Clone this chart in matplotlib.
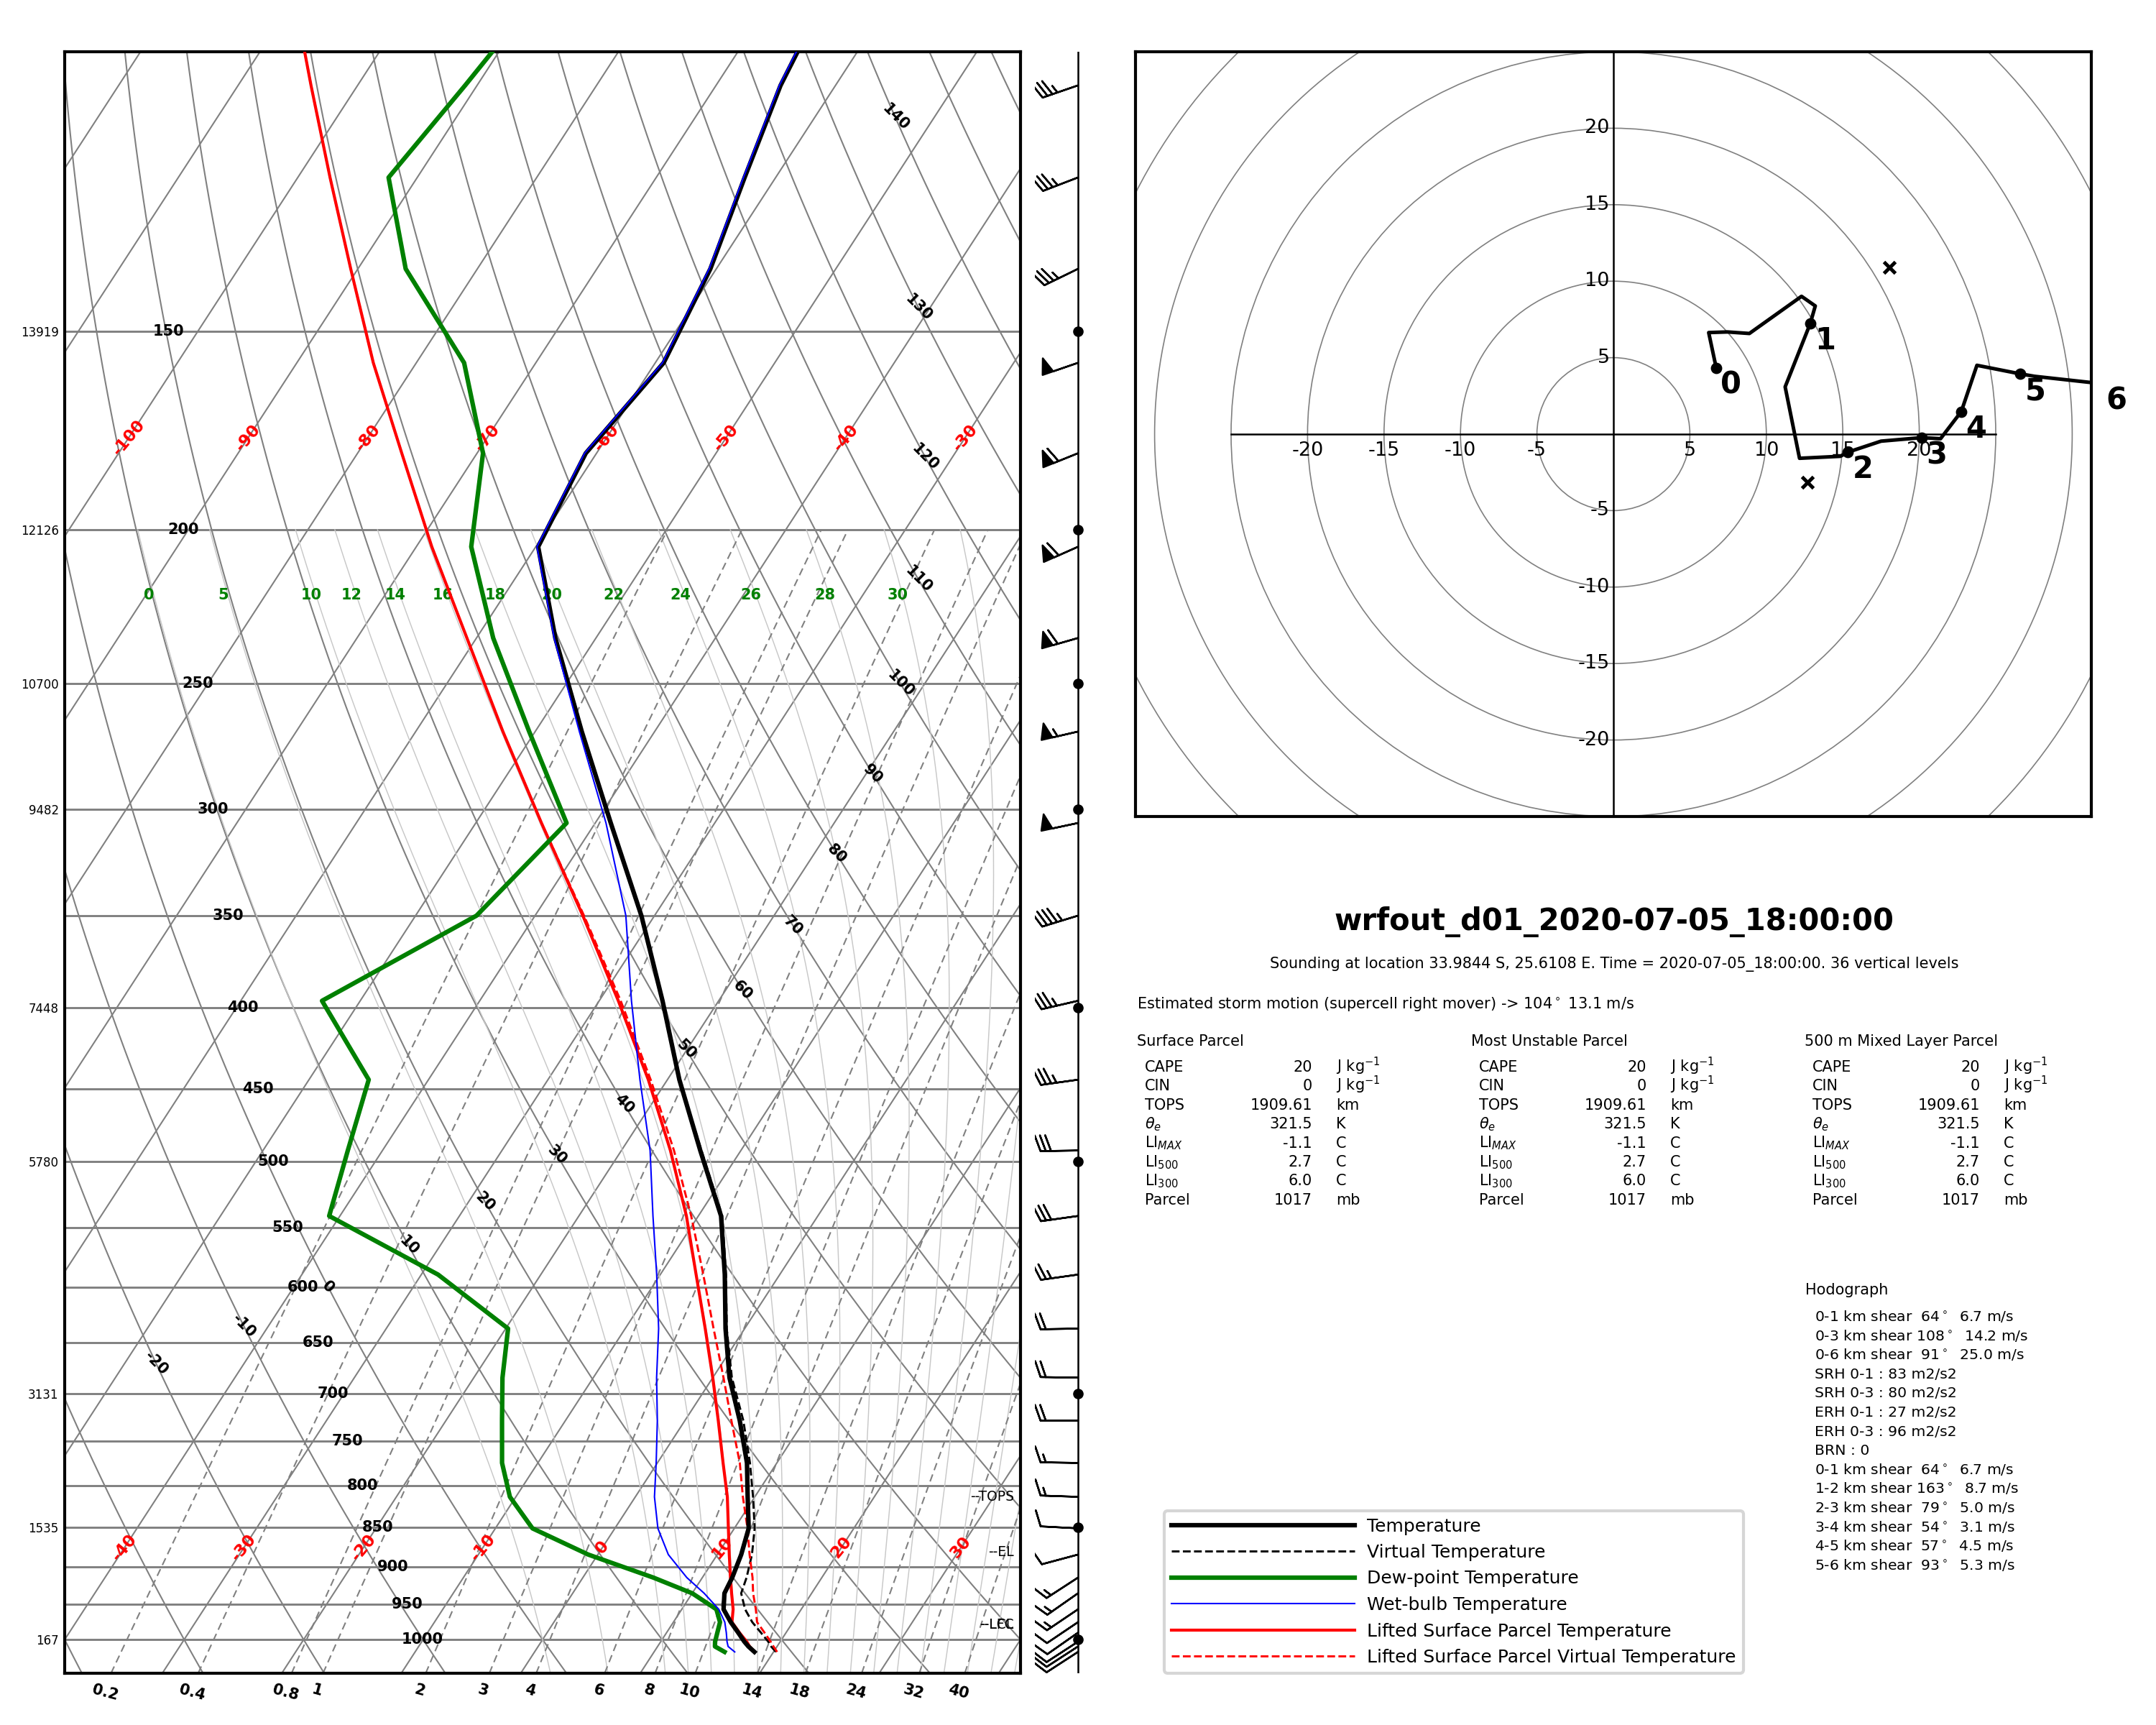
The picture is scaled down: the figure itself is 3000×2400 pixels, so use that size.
import numpy as np
import matplotlib
matplotlib.use('Agg')
import matplotlib.pyplot as plt
import matplotlib.transforms as mtransforms
from matplotlib.patches import Circle

# ---------------- sounding ----------------
pres = [1018, 1010, 1003, 990, 975, 957, 935, 914, 884, 851, 813, 774, 728, 684,
        637, 589, 541, 492, 444, 396, 350, 306, 268, 234, 205, 179, 157, 137, 120, 105, 92]
temp = [18.4, 17.6, 17.0, 16.0, 14.8, 13.5, 12.7, 12.5, 12.0, 11.2, 9.4, 7.5, 4.6, 1.4,
        -1.6, -4.6, -8.1, -13.4, -19.0, -24.7, -31.1, -38.7, -46.1, -53.4, -59.8, -60.9,
        -59.3, -60.5, -62.6, -64.6, -65.7]
tvirt = [20.2, 19.5, 19.0, 17.9, 16.6, 15.3, 14.1, 13.7, 12.9, 11.7, 9.85, 7.75, 4.9, 1.6,
         -1.5, -4.5, -8.0, -13.3, -19.0, -24.7, -31.1, -38.7, -46.1, -53.4, -59.8, -60.9,
         -59.3, -60.5, -62.6, -64.6, -65.7]
dewp = [15.9, 14.8, 14.55, 14.25, 13.9, 12.9, 10.0, 5.9, -0.8, -6.9, -10.5, -13.0, -15.3,
        -17.6, -19.8, -28.6, -40.9, -42.9, -45.0, -53.2, -44.9, -42.4, -50.5, -58.6, -65.4,
        -69.5, -76.0, -86.0, -92.4, -91.0, -89.8]
twet = [16.75, 15.9, 15.55, 15.0, 14.3, 13.1, 11.0, 8.7, 5.9, 3.6, 1.6, -0.1, -2.3, -4.7,
        -7.2, -10.3, -13.8, -17.6, -22.3, -27.3, -32.4, -39.1, -46.3, -53.5, -59.9, -61.0,
        -59.4, -60.6, -62.7, -64.7, -65.8]
tpar = [18.4, 17.7, 17.2, 16.1, 14.9, 14.3, 13.3, 12.35, 11.0, 9.5, 7.7, 5.5, 2.8, 0.0,
        -3.3, -7.0, -11.0, -15.9, -21.6, -28.4, -36.0, -44.5, -52.7, -60.8, -68.7, -76.3,
        -83.6, -90.6, -97.3, -103.9, -110.3]
tpar_v = [20.3, 19.7, 19.2, 18.2, 17.0, 16.2, 15.1, 14.2, 12.7, 11.1, 9.0, 6.9, 3.9, 0.9,
          -2.6, -6.4, -10.6, -15.6, -21.4, -28.2, -35.9, -44.5, -52.7, -60.8, -68.7, -76.3,
          -83.6, -90.6, -97.3, -103.9, -110.3]
wspd = [10, 10, 10, 10, 10, 15, 15, 15, 10, 10, 15, 15, 20, 20, 20, 25, 30, 30, 35, 35,
        45, 50, 55, 60, 60, 60, 50, 35, 35, 35, 35]
wdir = [237, 237, 237, 235, 236, 236, 235, 237, 255, 273, 272, 271, 270, 271, 269, 262,
        262, 269, 262, 257, 253, 258, 257, 254, 246, 248, 251, 244, 249, 251, 251]

hgt_p = [150, 200, 250, 300, 400, 500, 700, 850, 1000]
hgt_m = ['13919', '12126', '10700', '9482', '7448', '5780', '3131', '1535', '167']

# hodograph (m/s)
hodo_u = [6.72, 6.23, 7.46, 8.89, 12.30, 13.20, 12.87, 11.23, 12.17, 14.84, 15.33, 17.50,
          20.16, 21.39, 22.75, 23.77, 26.60, 27.54, 31.90]
hodo_v = [4.34, 6.64, 6.68, 6.58, 9.01, 8.38, 7.23, 3.09, -1.58, -1.45, -1.18, -0.46,
          -0.23, -0.30, 1.48, 4.50, 3.94, 3.78, 3.30]
km_u = [6.72, 12.87, 15.33, 20.16, 22.75, 26.60, 31.90]
km_v = [4.34, 7.23, -1.18, -0.23, 1.48, 3.94, 3.30]
storm_u = [12.71, 18.03]
storm_v = [-3.17, 10.91]

mix_vals = [0.2, 0.4, 0.8, 1, 2, 3, 4, 6, 8, 10, 14, 18, 24, 32, 40]
mix_labs = ['0.2', '0.4', '0.8', '1', '2', '3', '4', '6', '8', '10', '14', '18', '24', '32', '40']
thw_vals = [0, 5, 10, 12, 14, 16, 18, 20, 22, 24, 26, 28, 30, 32, 34, 36, 38, 40]

parcel_rows = [('CAPE', '20', r'J kg$^{-1}$'), ('CIN', '0', r'J kg$^{-1}$'),
               ('TOPS', '1909.61', 'km'), (r'$\theta_e$', '321.5', 'K'),
               (r'LI$_{MAX}$', '-1.1', 'C'), (r'LI$_{500}$', '2.7', 'C'),
               (r'LI$_{300}$', '6.0', 'C'), ('Parcel', '1017', 'mb')]
parcel_heads = ['Surface Parcel', 'Most Unstable Parcel', '500 m Mixed Layer Parcel']
hodo_lines = [r'0-1 km shear  64$^\circ$  6.7 m/s', r'0-3 km shear 108$^\circ$  14.2 m/s',
              r'0-6 km shear  91$^\circ$  25.0 m/s', 'SRH 0-1 : 83 m2/s2', 'SRH 0-3 : 80 m2/s2',
              'ERH 0-1 : 27 m2/s2', 'ERH 0-3 : 96 m2/s2', 'BRN : 0',
              r'0-1 km shear  64$^\circ$  6.7 m/s', r'1-2 km shear 163$^\circ$  8.7 m/s',
              r'2-3 km shear  79$^\circ$  5.0 m/s', r'3-4 km shear  54$^\circ$  3.1 m/s',
              r'4-5 km shear  57$^\circ$  4.5 m/s', r'5-6 km shear  93$^\circ$  5.3 m/s']

fig = plt.figure(figsize=(10, 8), dpi=300)

# ---------------- skew-T ----------------
ax = fig.add_axes([0.03, 0.03, 0.44333, 0.94])
ax.set_yscale('log')
ax.set_xlim(-40, 40)
ax.set_ylim(1050, 100)
ax.set_autoscale_on(False)
K = 37.5
l10 = np.log(10)
skew = (ax.transScale
        + mtransforms.Affine2D(np.array([[1, -K * l10, 3 * K * l10], [0, 1, 0], [0, 0, 1]]))
        + ax.transLimits + ax.transAxes)
gcol = '#808080'

for p in range(150, 1050, 50):
    ax.axhline(p, color=gcol, lw=0.7, zorder=1)

for t in range(-130, 60, 10):
    ax.plot([t, t], [1050, 100], color=gcol, lw=0.5, transform=skew, zorder=1)

p_dry = np.geomspace(1050, 100, 100)
for th in range(-40, 180, 10):
    ax.plot((th + 273.15) * (p_dry / 1000) ** 0.2857 - 273.15, p_dry, color=gcol, lw=0.5,
            transform=skew, zorder=1)


def es(tc):
    return 6.112 * np.exp(17.67 * tc / (tc + 243.5))


def dtdp(tk, p):
    e = es(tk - 273.15)
    rs = 0.622 * e / (p - e)
    return (287.04 * tk + 2.501e6 * rs) / (1005.7 + 2.501e6 ** 2 * rs * 0.622 / (287.04 * tk ** 2)) / p


def integrate(t0, pgrid):
    out = [t0]
    t = t0
    for p1, p2 in zip(pgrid[:-1], pgrid[1:]):
        h = p2 - p1
        k1 = dtdp(t, p1)
        k2 = dtdp(t + h * k1 / 2, p1 + h / 2)
        k3 = dtdp(t + h * k2 / 2, p1 + h / 2)
        k4 = dtdp(t + h * k3, p2)
        t = t + h * (k1 + 2 * k2 + 2 * k3 + k4) / 6
        out.append(t)
    return np.array(out)


thw0 = np.array(thw_vals, dtype=float) + 273.15
p_up = np.linspace(1000, 200, 161)
p_dn = np.linspace(1000, 1050, 11)
t_up = integrate(thw0, p_up)
t_dn = integrate(thw0, p_dn)
p_moist = np.concatenate([p_dn[::-1], p_up[1:]])
t_moist = np.concatenate([t_dn[::-1], t_up[1:]]) - 273.15
for i, thw in enumerate(thw_vals):
    ax.plot(t_moist[:, i], p_moist, color='#c8c8c8', lw=0.35, transform=skew, zorder=1)
    tl = np.interp(np.log(220), np.log(p_up[::-1]), t_up[::-1, i] - 273.15)
    if thw <= 30:
        ax.text(tl - 0.4, 220, str(thw), color='green', fontsize=5, fontweight='bold',
                ha='center', va='center', transform=skew, zorder=3)

p_mix = np.geomspace(1050, 200, 60)
for r, lab in zip(mix_vals, mix_labs):
    e = r / 1000 * p_mix / (0.622 + r / 1000)
    le = np.log(e / 6.112)
    tm = 243.5 * le / (17.67 - le)
    ax.plot(tm, p_mix, color=gcol, lw=0.5, ls='--', dashes=(5, 3), transform=skew, zorder=1)
    ax.annotate(lab, xy=(tm[0], 1050), xycoords=skew, xytext=(-2, -3),
                textcoords='offset points', ha='center', va='top', rotation=-15,
                fontsize=5, fontweight='bold', annotation_clip=False)

# labels: isotherms, dry adiabats, pressure
for t in range(-130, 60, 10):
    for pl in (875, 175):
        if -39 < t + K * np.log(1000 / pl) < 39:
            ax.text(t, pl, str(t), color='red', fontsize=5.5, fontweight='bold', rotation=50,
                    ha='center', va='center', transform=skew, zorder=3)
for th in range(-20, 150, 10):
    pl = 600 - 3.5 * th
    ax.text((th + 273.15) * (pl / 1000) ** 0.2857 - 273.15, pl, str(th), fontsize=5,
            fontweight='bold', rotation=-45, ha='center', va='center', transform=skew, zorder=3)
pl_tr = mtransforms.blended_transform_factory(ax.transAxes, ax.transData)
for p in range(150, 1050, 50):
    ax.text(0.1083 + (p - 150) * 0.000313, p, str(p), fontsize=5, fontweight='bold',
            ha='center', va='center', transform=pl_tr, zorder=3)

# profiles
ax.plot(temp, pres, color='k', lw=1.5, transform=skew, zorder=6, label='Temperature')
ax.plot(tvirt, pres, color='k', lw=0.7, ls='--', transform=skew, zorder=5,
        label='Virtual Temperature')
ax.plot(dewp, pres, color='green', lw=1.5, transform=skew, zorder=6,
        label='Dew-point Temperature')
ax.plot(twet, pres, color='blue', lw=0.5, transform=skew, zorder=7, label='Wet-bulb Temperature')
ax.plot(tpar, pres, color='red', lw=1.0, transform=skew, zorder=5,
        label='Lifted Surface Parcel Temperature')
ax.plot(tpar_v, pres, color='red', lw=0.7, ls='--', transform=skew, zorder=5,
        label='Lifted Surface Parcel Virtual Temperature')

for lab, pl in (('--TOPS', 813), ('--EL', 881), ('--LCL', 979), ('--LFC', 979)):
    ax.text(0.993, pl, lab, fontsize=4.5, ha='right', va='center', transform=pl_tr, zorder=4)

ax.set_xticks([])
ax.set_yticks(hgt_p)
ax.set_yticklabels(hgt_m, fontsize=4)
ax.yaxis.set_minor_locator(matplotlib.ticker.NullLocator())
ax.tick_params(axis='y', length=0, pad=2)
for s in ax.spines.values():
    s.set_linewidth(1.0)

handles, labels = ax.get_legend_handles_labels()
fig.legend(handles, labels, loc='lower left', bbox_to_anchor=(0.54, 0.03),
           bbox_transform=fig.transFigure, borderaxespad=0, fontsize=6, handlelength=10.2,
           handletextpad=0.7, labelspacing=0.5)

# ---------------- wind barbs ----------------
axb = fig.add_axes([0.48, 0.03, 0.04, 0.94])
axb.set_yscale('log')
axb.set_ylim(1050, 100)
axb.set_xlim(-1, 1)
axb.axis('off')
axb.axvline(0, color='k', lw=0.6)
rad = np.deg2rad(wdir)
axb.barbs(np.zeros(len(pres)), pres, -np.array(wspd) * np.sin(rad),
          -np.array(wspd) * np.cos(rad), length=5.0, lw=0.6,
          sizes=dict(spacing=0.14, height=0.42, width=0.3))
axb.plot(np.zeros(len(hgt_p)), hgt_p, 'ko', ms=2.5)

# ---------------- hodograph ----------------
axh = fig.add_axes([0.52667, 0.52667, 0.44333, 0.44333])
axh.set_xlim(-31.25, 31.25)
axh.set_ylim(-25, 25)
for r in range(5, 45, 5):
    axh.add_patch(Circle((0, 0), r, fill=False, ec='gray', lw=0.4))
axh.plot([-25, 25], [0, 0], color='k', lw=0.6)
axh.plot([0, 0], [-25, 25], color='k', lw=0.6)
for t in (-20, -15, -10, -5, 5, 10, 15, 20):
    axh.text(t, -0.45, str(t), ha='center', va='top', fontsize=6.5)
    axh.text(-0.25, t, str(t), ha='right', va='center', fontsize=6.5)
axh.plot(hodo_u, hodo_v, color='k', lw=1.2)
axh.plot(km_u, km_v, 'ko', ms=2.8)
for i, (uu, vv) in enumerate(zip(km_u, km_v)):
    axh.text(uu + 0.3, vv - 0.15, str(i), fontsize=10, fontweight='bold', ha='left', va='top')
axh.plot(storm_u, storm_v, 'kx', ms=4, mew=1.2)
axh.set_xticks([])
axh.set_yticks([])
for s in axh.spines.values():
    s.set_linewidth(1.0)

# ---------------- text panel ----------------
H = 2400.0
W = 3000.0
fig.text(2246 / W, 1 - 1283 / H, 'wrfout_d01_2020-07-05_18:00:00', fontsize=10,
         fontweight='bold', ha='center', va='center')
fig.text(2246 / W, 1 - 1342 / H, 'Sounding at location 33.9844 S, 25.6108 E. Time = '
         '2020-07-05_18:00:00. 36 vertical levels', fontsize=5, ha='center', va='center')
fig.text(1582 / W, 1 - 1397 / H, r'Estimated storm motion (supercell right mover) -> 104$^\circ$ 13.1 m/s',
         fontsize=5, ha='left', va='center')
for head, x0 in zip(parcel_heads, (1582, 2047, 2511)):
    fig.text(x0 / W, 1 - 1449 / H, head, fontsize=5, ha='left', va='center')
    for j, (name, val, unit) in enumerate(parcel_rows):
        yb = 1 - (1491 + 26.4 * j) / H
        fig.text((x0 + 11) / W, yb, name, fontsize=5, ha='left', va='baseline')
        fig.text((x0 + 244) / W, yb, val, fontsize=5, ha='right', va='baseline')
        fig.text((x0 + 277) / W, yb, unit, fontsize=5, ha='left', va='baseline')
fig.text(2512 / W, 1 - 1801 / H, 'Hodograph', fontsize=5, ha='left', va='baseline')
for j, line in enumerate(hodo_lines):
    fig.text(2525 / W, 1 - (1838 + 26.6 * j) / H, line, fontsize=4.9, ha='left', va='baseline')

fig.savefig('out.png', dpi=300)
